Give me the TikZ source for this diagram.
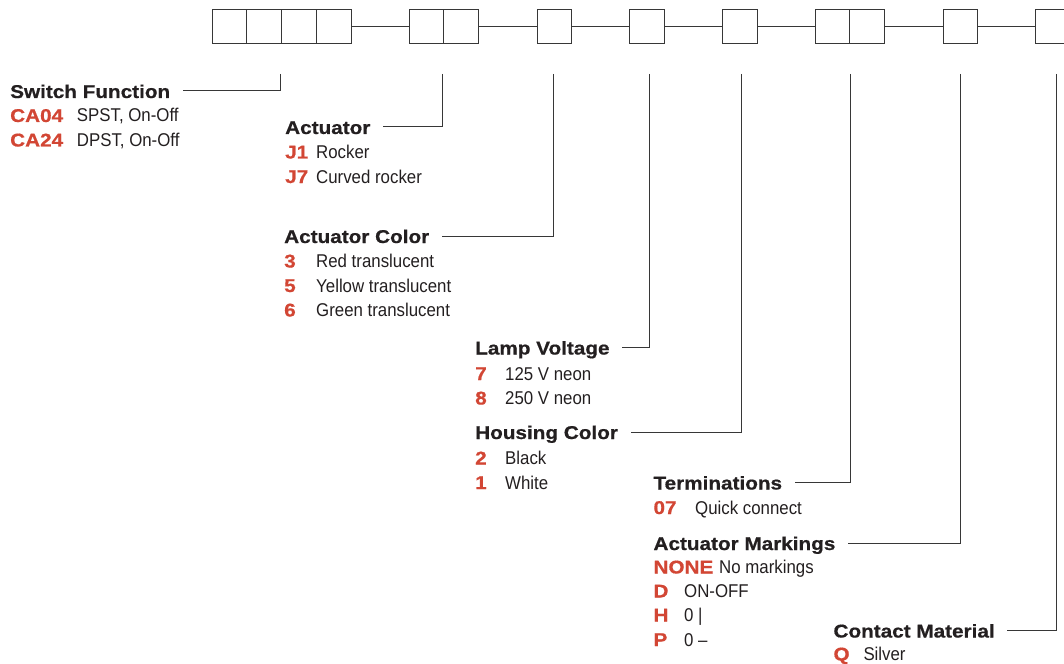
\documentclass[tikz,border=0pt]{standalone}
\usepackage{fontspec}
\setmainfont{Liberation Sans}
\newfontfamily\headfont[FakeStretch=1.12, BoldFeatures={FakeBold=0.7}]{Liberation Sans}
\newfontfamily\condfont[FakeStretch=0.91]{Liberation Sans}
\definecolor{codered}{RGB}{210,70,52}
\definecolor{ink}{RGB}{35,31,32}
\definecolor{rulegray}{RGB}{55,55,55}

\begin{document}
\begin{tikzpicture}[x=1pt, y=-1pt,
  slot/.style={draw=rulegray, line width=1pt, minimum width=34.8pt, minimum height=34pt, inner sep=0pt, outer sep=0pt},
  link/.style={draw=rulegray, line width=1pt},
  heading/.style={anchor=base west, inner sep=0pt, text depth=0pt, text height=14pt, text=ink,
    font=\headfont\bfseries\fontsize{18.5}{20}\selectfont},
  codetxt/.style={anchor=base west, inner sep=0pt, text=codered, font=\headfont\bfseries\fontsize{18.5}{20}\selectfont},
  desc/.style={anchor=base west, inner sep=0pt, text=ink, font=\condfont\fontsize{18.5}{20}\selectfont}]
  \useasboundingbox (0,0) rectangle (1064,663);
  \clip (0,0) rectangle (1064,663);

  % ordering code slots
  \foreach \i/\x in {1/229.4, 2/264.2, 3/299.0, 4/333.8} \node[slot] (sf\i) at (\x,27) {};
  \foreach \i/\x in {1/426.4, 2/461.2} \node[slot] (ac\i) at (\x,27) {};
  \node[slot] (col) at (554.4,27) {};
  \node[slot] (lmp) at (646.9,27) {};
  \node[slot] (hsg) at (739.7,27) {};
  \foreach \i/\x in {1/832.4, 2/867.2} \node[slot] (tm\i) at (\x,27) {};
  \node[slot] (mk) at (960.4,27) {};
  \node[slot] (ct) at (1052.7,27) {};
  \draw[link] (sf4) -- (ac1); \draw[link] (ac2) -- (col); \draw[link] (col) -- (lmp);
  \draw[link] (lmp) -- (hsg); \draw[link] (hsg) -- (tm1); \draw[link] (tm2) -- (mk);
  \draw[link] (mk) -- (ct);

  % leader tops
  \coordinate (sftop) at (280,74);   \coordinate (actop) at (442,74);
  \coordinate (coltop) at (553,74);  \coordinate (lmptop) at (649,74);
  \coordinate (hsgtop) at (741.7,74); \coordinate (tmtop) at (850,74);
  \coordinate (mktop) at (960.7,74); \coordinate (cttop) at (1056,74);

  % switch function
  \node[heading] (sfhead) at (10,98) {Switch Function};
  \node[codetxt] (ca04) at (10,122) {CA04};  \node[desc] (ca04d) at (76.7,122) {SPST, On-Off};
  \node[codetxt] (ca24) at (10,146.5) {CA24}; \node[desc] (ca24d) at (76.7,146.5) {DPST, On-Off};
  \draw[link] (sftop) |- ([xshift=12.5pt]sfhead.east);

  % actuator
  \node[heading] (achead) at (285,134) {Actuator};
  \node[codetxt] (j1) at (285,158.5) {J1}; \node[desc] (j1d) at (316,158.5) {Rocker};
  \node[codetxt] (j7) at (285,183) {J7};   \node[desc] (j7d) at (316,183) {Curved rocker};
  \draw[link] (actop) |- ([xshift=12.5pt]achead.east);

  % actuator color
  \node[heading] (colhead) at (284,243) {Actuator Color};
  \node[codetxt] (c3) at (284,267.5) {3}; \node[desc] (c3d) at (316,267.5) {Red translucent};
  \node[codetxt] (c5) at (284,292) {5};   \node[desc] (c5d) at (316,292) {Yellow translucent};
  \node[codetxt] (c6) at (284,316.5) {6}; \node[desc] (c6d) at (316,316.5) {Green translucent};
  \draw[link] (coltop) |- ([xshift=12.5pt]colhead.east);

  % lamp voltage
  \node[heading] (lmphead) at (475,354.5) {Lamp Voltage};
  \node[codetxt] (v7) at (475,380) {7}; \node[desc] (v7d) at (505,380) {125 V neon};
  \node[codetxt] (v8) at (475,404.5) {8}; \node[desc] (v8d) at (505,404.5) {250 V neon};
  \draw[link] (lmptop) |- ([xshift=12.5pt]lmphead.east);

  % housing color
  \node[heading] (hsghead) at (475,439) {Housing Color};
  \node[codetxt] (h2) at (475,464.5) {2}; \node[desc] (h2d) at (505,464.5) {Black};
  \node[codetxt] (h1) at (475,489) {1};   \node[desc] (h1d) at (505,489) {White};
  \draw[link] (hsgtop) |- ([xshift=12.5pt]hsghead.east);

  % terminations
  \node[heading] (tmhead) at (653.3,489.5) {Terminations};
  \node[codetxt] (t07) at (653.3,514) {07}; \node[desc] (t07d) at (695,514) {Quick connect};
  \draw[link] (tmtop) |- ([xshift=12.5pt]tmhead.east);

  % actuator markings
  \node[heading] (mkhead) at (653.3,550) {Actuator Markings};
  \node[codetxt] (mnone) at (653.3,573.5) {NONE}; \node[desc] (mnoned) at (719,573.5) {No markings};
  \node[codetxt] (md) at (653.3,597.5) {D}; \node[desc] (mdd) at (684,597.5) {ON-OFF};
  \node[codetxt] (mh) at (653.3,621.5) {H}; \node[desc] (mhd) at (684,621.5) {0 |};
  \node[codetxt] (mp) at (653.3,646) {P};   \node[desc] (mpd) at (684,646) {0 –};
  \draw[link] (mktop) |- ([xshift=12.5pt]mkhead.east);

  % contact material
  \node[heading] (cthead) at (833.3,637.5) {Contact Material};
  \node[codetxt] (cq) at (833.3,660.5) {Q}; \node[desc] (cqd) at (863.3,660.5) {Silver};
  \draw[link] (cttop) |- ([xshift=12.5pt]cthead.east);
\end{tikzpicture}
\end{document}
